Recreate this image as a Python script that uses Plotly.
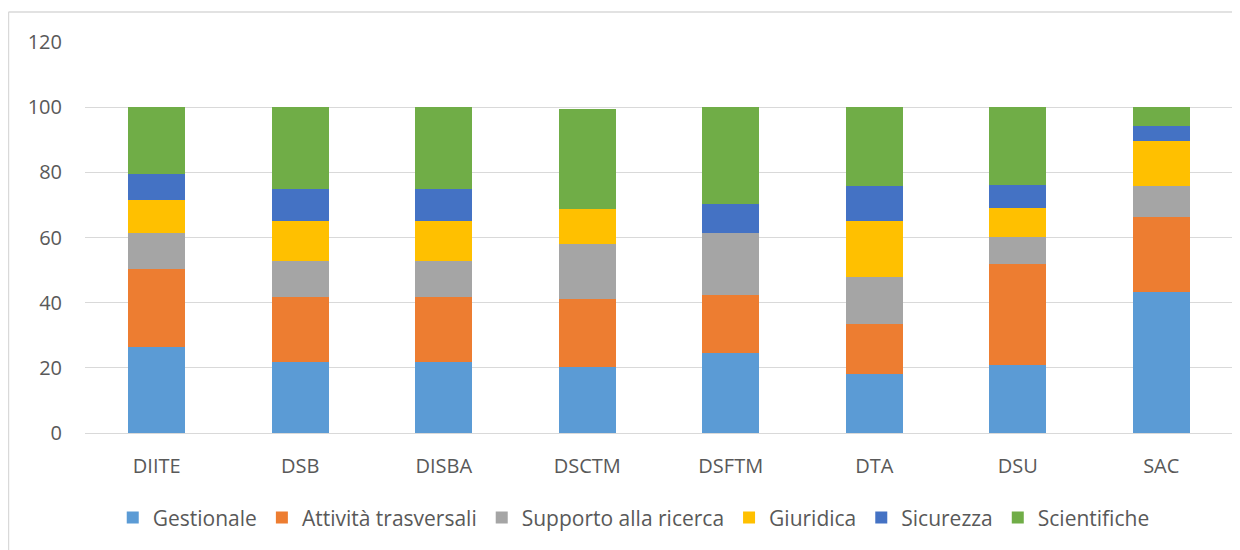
import plotly.graph_objects as go

categories = ["DIITE", "DSB", "DISBA", "DSCTM", "DSFTM", "DTA", "DSU", "SAC"]
series_names = ["Gestionale", "Attività trasversali", "Supporto alla ricerca", "Giuridica", "Sicurezza", "Scientifiche"]
gestionale = [26.3, 21.9, 21.9, 20.4, 24.5, 18.0, 20.8, 43.2]
attivita = [23.9, 19.9, 19.9, 20.6, 17.9, 15.4, 31.2, 23.0]
supporto = [11.1, 10.9, 10.9, 16.9, 18.9, 14.6, 8.2, 9.6]
giuridica = [10.1, 12.5, 12.5, 10.8, 0.0, 17.2, 9.0, 13.9]
sicurezza = [8.2, 9.8, 9.8, 0.0, 9.0, 10.6, 6.9, 4.6]
scientifiche = [20.4, 25.0, 25.0, 30.8, 29.7, 24.2, 23.9, 5.7]
colors = ["#5B9BD5", "#ED7D31", "#A5A5A5", "#FFC000", "#4472C4", "#70AD47"]
y_ticks = [0, 20, 40, 60, 80, 100, 120]

fig = go.Figure()
for name, vals, col in zip(series_names, [gestionale, attivita, supporto, giuridica, sicurezza, scientifiche], colors):
    fig.add_trace(go.Bar(x=categories, y=vals, name=name, marker=dict(color=col, line=dict(width=0))))

font = dict(family="Open Sans, Lato, sans-serif", size=20, color="#595959")
legend_font = dict(family="Open Sans, Lato, sans-serif", size=21, color="#595959")
fig.update_layout(
    barmode="stack",
    bargap=0.6,
    width=1232, height=542,
    margin=dict(l=77, r=7, t=34, b=117),
    paper_bgcolor="white", plot_bgcolor="white",
    font=font,
    legend=dict(orientation="h", x=0.478, xanchor="center", y=-0.217, yanchor="middle",
                font=legend_font, itemwidth=30, traceorder="normal"),
    xaxis=dict(showgrid=False, showline=False, ticks="", tickfont=font, ticklabelstandoff=19),
    yaxis=dict(range=[0, 120], tickvals=y_ticks, showgrid=True, gridcolor="#D9D9D9", gridwidth=1,
               zeroline=True, zerolinecolor="#D9D9D9", zerolinewidth=1, showline=False, ticks="",
               tickfont=font, ticklabelstandoff=22),
    shapes=[
        dict(type="line", xref="paper", yref="paper",
             x0=-76/1140, x1=1 + 20/1140, y0=1 + 30/391, y1=1 + 30/391,
             line=dict(color="#D9D9D9", width=1.5)),
        dict(type="line", xref="paper", yref="paper",
             x0=-76/1140, x1=-76/1140, y0=1 + 30/391, y1=-125/391,
             line=dict(color="#D9D9D9", width=1.5)),
    ],
)
fig.write_html("out.html")
